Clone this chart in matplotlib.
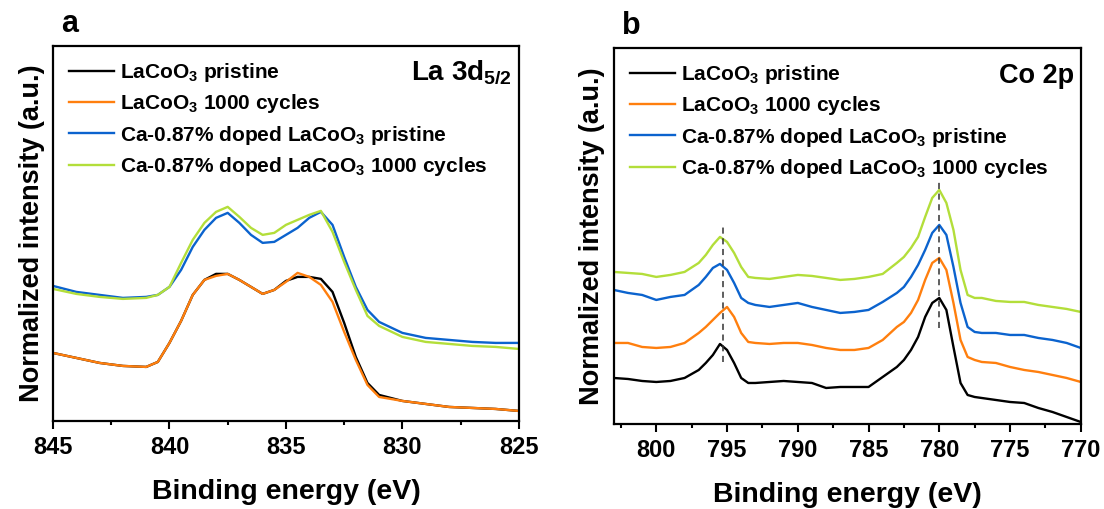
import numpy as np
import matplotlib
matplotlib.use('Agg')
import matplotlib.pyplot as plt
from matplotlib.ticker import MultipleLocator, NullLocator

plt.rcParams['font.family'] = ['Liberation Sans', 'DejaVu Sans']
plt.rcParams['font.weight'] = 'bold'
plt.rcParams['mathtext.fontset'] = 'custom'
plt.rcParams['mathtext.bf'] = 'Liberation Sans:bold'
plt.rcParams['mathtext.rm'] = 'Liberation Sans:bold'
plt.rcParams['mathtext.default'] = 'bf'

# ---- panel a: La 3d5/2 (binding energy, eV / normalized intensity, a.u.)
la_energy = [845, 844, 843, 842, 841, 840.5, 840, 839.5, 839, 838.5, 838, 837.5, 837,
             836.5, 836, 835.5, 835, 834.5, 834, 833.5, 833, 832.5, 832, 831.5, 831,
             830, 829, 828, 827, 826, 825]
la_pristine = [68, 63, 58, 55, 54, 59, 78, 100, 126, 141, 147, 147, 141,
               134, 127, 131, 140, 144, 144, 142, 129, 98, 64, 38, 26,
               20, 17, 14, 13, 12, 10]
la_cycled = [68, 63, 58, 55, 54, 59, 78, 100, 126, 141, 145, 147, 141,
             134, 127, 131, 139, 148, 144, 136, 119, 89, 61, 36, 24,
             20, 17, 14, 13, 12, 10]
la_ca_pristine = [135, 129, 126, 123, 124, 126, 134, 151, 174, 191, 203, 208, 198,
                  186, 178, 179, 186, 193, 203, 209, 196, 164, 134, 111, 99,
                  88, 83, 81, 79, 78, 78]
la_ca_cycled = [132, 127, 124, 122, 123, 126, 134, 158, 181, 198, 209, 214, 204,
                193, 186, 188, 196, 201, 206, 210, 189, 159, 131, 105, 95,
                84, 79, 77, 75, 74, 72]

# ---- panel b: Co 2p
co_energy = [803, 802, 801, 800, 799, 798, 797, 796.5, 796, 795.5, 795, 794.5, 794,
             793.5, 793, 792, 791, 790, 789, 788, 787, 786, 785, 784, 783, 782.5,
             782, 781.5, 781, 780.5, 780, 779.5, 779, 778.5, 778, 777.5, 777, 776,
             775, 774, 773, 772, 771, 770]
co_pristine = [46, 45, 43, 42, 43, 46, 54, 61, 69, 80, 74, 61, 46,
               41, 41, 42, 43, 42, 41, 36, 37, 37, 37, 47, 57, 64,
               74, 87, 107, 121, 126, 114, 77, 41, 29, 27, 26, 24,
               22, 21, 16, 12, 7, 2]
co_cycled = [81, 81, 77, 76, 77, 81, 91, 97, 104, 111, 117, 107, 91,
             82, 81, 80, 81, 81, 79, 76, 74, 74, 76, 84, 97, 102,
             111, 124, 144, 161, 166, 154, 121, 84, 67, 64, 62, 61,
             57, 54, 52, 49, 46, 42]
co_ca_pristine = [134, 131, 129, 124, 127, 129, 139, 147, 156, 160, 154, 141, 126,
                  121, 119, 117, 119, 121, 117, 114, 111, 112, 114, 122, 131, 137,
                  147, 159, 174, 191, 199, 189, 157, 121, 97, 92, 91, 91,
                  89, 89, 86, 84, 81, 76]
co_ca_cycled = [152, 151, 150, 147, 149, 152, 161, 169, 179, 187, 182, 171, 157,
                147, 146, 145, 147, 149, 148, 146, 144, 145, 147, 150, 161, 167,
                176, 187, 207, 226, 234, 221, 194, 154, 129, 126, 126, 123,
                122, 122, 119, 117, 115, 112]

peak_lines = [795.3, 780.0]
peak_spans = [(200, 62), (242, 96)]

labels = ['LaCoO$_3$ pristine', 'LaCoO$_3$ 1000 cycles',
          'Ca-0.87% doped LaCoO$_3$ pristine', 'Ca-0.87% doped LaCoO$_3$ 1000 cycles']
colors = ['#000000', '#FF7F0E', '#0B63CE', '#B3DE3A']

fig = plt.figure(figsize=(11.04, 5.09), dpi=100)
ax1 = fig.add_axes([0.048, 0.173, 0.422, 0.737])
ax2 = fig.add_axes([0.556, 0.167, 0.423, 0.739])


def style_axis(ax, xlim, ylim):
    ax.set_xlim(*xlim)
    ax.set_ylim(*ylim)
    ax.xaxis.set_major_locator(MultipleLocator(5))
    ax.xaxis.set_minor_locator(MultipleLocator(2.5))
    ax.yaxis.set_major_locator(NullLocator())
    ax.tick_params(axis='x', which='major', direction='out', length=6, width=1.5,
                   top=False, labelsize=17, pad=5)
    ax.tick_params(axis='x', which='minor', direction='out', length=3, width=1.5, top=False)
    for sp in ax.spines.values():
        sp.set_linewidth(1.6)
    ax.set_xlabel('Binding energy (eV)', fontsize=20.5, fontweight='bold', labelpad=14)
    ax.set_ylabel('Normalized intensity (a.u.)', fontsize=19.5, fontweight='bold', labelpad=6)


# 图 a
for ys, lab, c in zip([la_pristine, la_cycled, la_ca_pristine, la_ca_cycled], labels, colors):
    ax1.plot(la_energy, ys, color=c, lw=1.7, label=lab)
style_axis(ax1, (845, 825), (0, 375))
ax1.text(0.985, 0.93, 'La 3d$_{5/2}$', transform=ax1.transAxes, ha='right', va='center',
         fontsize=20, fontweight='bold')
ax1.text(0.018, 1.057, 'a', transform=ax1.transAxes, fontsize=22, fontweight='bold',
         ha='left', va='center')

# 图 b
for ys, lab, c in zip([co_pristine, co_cycled, co_ca_pristine, co_ca_cycled], labels, colors):
    ax2.plot(co_energy, ys, color=c, lw=1.7, label=lab)
for e, (top, bot) in zip(peak_lines, peak_spans):
    ax2.plot([e, e], [bot, top], color='#333333', lw=1.1, ls=(0, (4, 3)))
style_axis(ax2, (803, 770), (0, 376))
ax2.text(0.985, 0.925, 'Co 2p', transform=ax2.transAxes, ha='right', va='center',
         fontsize=19.5, fontweight='bold')
ax2.text(0.018, 1.057, 'b', transform=ax2.transAxes, fontsize=22, fontweight='bold',
         ha='left', va='center')

for ax in (ax1, ax2):
    ax.legend(loc='upper left', frameon=False, handlelength=2.15,
              handletextpad=0.3, labelspacing=0.4, borderaxespad=0.15,
              bbox_to_anchor=(0.01, 0.99), prop={'weight': 'bold', 'size': 15})

fig.savefig('out.png', dpi=100)
